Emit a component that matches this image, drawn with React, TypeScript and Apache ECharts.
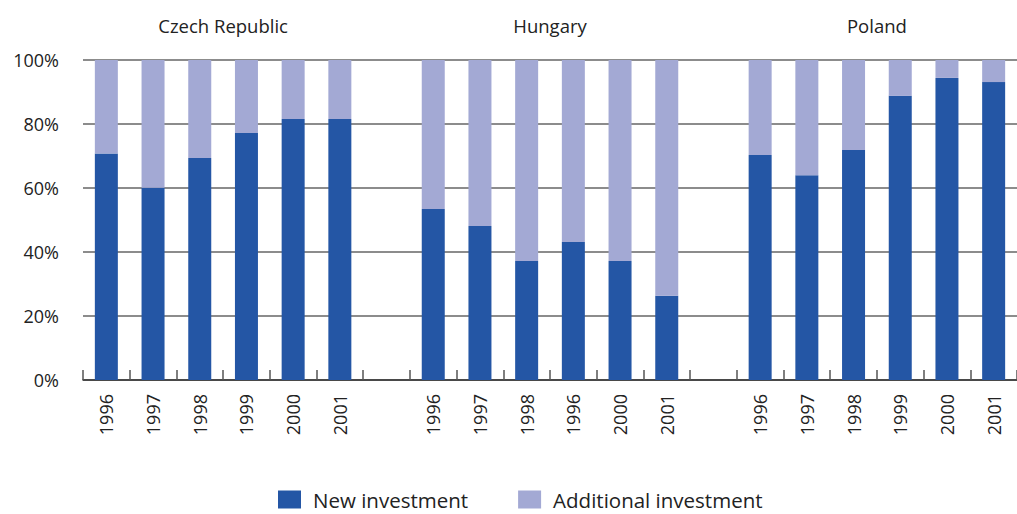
import React, { useEffect, useRef } from "react";
import * as echarts from "echarts";

const categories = [
  "1996", "1997", "1998", "1999", "2000", "2001", "",
  "1996", "1997", "1998", "1996", "2000", "2001", "",
  "1996", "1997", "1998", "1999", "2000", "2001",
];
const newInvestment: (number | string)[] = [
  70.8, 60.1, 69.4, 77.2, 81.6, 81.6, "-",
  53.4, 48.1, 37.2, 43.1, 37.2, 26.3, "-",
  70.3, 64.0, 71.9, 88.8, 94.4, 93.1,
];
const additionalInvestment: (number | string)[] = [
  29.2, 39.9, 30.6, 22.8, 18.4, 18.4, "-",
  46.6, 51.9, 62.8, 56.9, 62.8, 73.7, "-",
  29.7, 36.0, 28.1, 11.2, 5.6, 6.9,
];
const groups = [
  { name: "Czech Republic", from: 0, to: 5 },
  { name: "Hungary", from: 7, to: 12 },
  { name: "Poland", from: 14, to: 19 },
];
const yTicks = [0, 20, 40, 60, 80, 100];

const FONT = "'Open Sans', 'Noto Sans', sans-serif";
const DARK = "#2456a5";
const LIGHT = "#a3a9d4";

export default function App() {
  const ref = useRef<HTMLDivElement>(null);
  useEffect(() => {
    if (!ref.current) return;
    const chart = echarts.init(ref.current, undefined, { renderer: "svg" });
    chart.setOption({
      animation: false,
      textStyle: { fontFamily: FONT },
      grid: { left: 83, right: -8, top: 60, bottom: 134, containLabel: false },
      legend: {
        left: 278,
        top: 489,
        padding: 0,
        itemWidth: 23,
        itemHeight: 18,
        itemGap: 50,
        icon: "rect",
        textStyle: {
          fontSize: 20.5,
          lineHeight: 20,
          color: "#222",
          fontFamily: FONT,
          padding: [0, 0, 0, 7],
        },
        data: ["New investment", "Additional investment"],
      },
      xAxis: {
        type: "category",
        data: categories,
        axisLine: { lineStyle: { color: "#333", width: 1.5 } },
        axisTick: {
          show: true,
          inside: true,
          length: 10,
          interval: 0,
          lineStyle: { color: "#555", width: 1.5 },
        },
        axisLabel: {
          interval: 0,
          rotate: 90,
          margin: 14,
          fontSize: 18,
          color: "#222",
          fontFamily: FONT,
        },
      },
      yAxis: {
        type: "value",
        min: yTicks[0],
        max: yTicks[yTicks.length - 1],
        interval: 20,
        axisLine: { show: false },
        axisTick: { show: false },
        axisLabel: {
          margin: 24,
          fontSize: 18,
          color: "#222",
          fontFamily: FONT,
          formatter: "{value}%",
        },
        splitLine: { lineStyle: { color: "#666", width: 1.5 } },
      },
      series: [
        {
          name: "New investment",
          type: "bar",
          stack: "total",
          data: newInvestment,
          barWidth: 23,
          itemStyle: { color: DARK },
        },
        {
          name: "Additional investment",
          type: "bar",
          stack: "total",
          data: additionalInvestment,
          barWidth: 23,
          itemStyle: { color: LIGHT },
        },
      ],
    });
    const graphics = groups.map((g) => {
      const a = chart.convertToPixel({ xAxisIndex: 0 }, g.from) as number;
      const b = chart.convertToPixel({ xAxisIndex: 0 }, g.to) as number;
      return {
        type: "text",
        x: (a + b) / 2,
        y: 25,
        style: {
          text: g.name,
          fontSize: 18.5,
          fontFamily: FONT,
          fill: "#222",
          align: "center",
          verticalAlign: "middle",
        },
      };
    });
    chart.setOption({ graphic: graphics });
    return () => chart.dispose();
  }, []);
  return (
    <div
      ref={ref}
      style={{ position: "absolute", left: 0, top: 0, width: 1017, height: 514 }}
    />
  );
}
